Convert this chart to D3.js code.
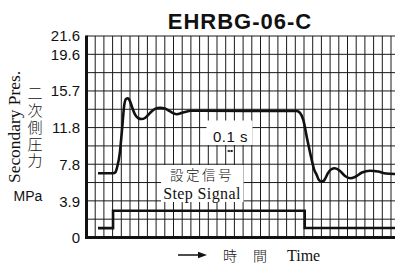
<!DOCTYPE html>
<html><head><meta charset="utf-8">
<script src="https://cdn.jsdelivr.net/npm/d3@7"></script>
<style>
html,body{margin:0;padding:0;background:#fff;}
svg{display:block;}
</style></head>
<body>
<svg id="c" width="395" height="263"></svg>
<script>
// ---- data ----
const title = "EHRBG-06-C";
const yTickValues = [0, 3.9, 7.8, 11.8, 15.7, 19.6, 21.6];
const yTickLabels = ["0", "3.9", "7.8", "11.8", "15.7", "19.6", "21.6"];
const gridCellsY = 11;          // horizontal grid divisions
const gridCellsX = 35;          // vertical grid divisions (time cells)
const pressureT = [1.32,3.05,3.33,3.5,3.85,4.08,4.34,4.54,4.74,4.94,5.23,5.57,5.92,6.34,6.72,7.3,7.87,8.45,9.02,9.6,10.37,11.09,12.09,13.05,24.16,24.54,24.92,25.34,25.89,26.15,26.46,26.72,27.03,27.3,27.76,28.1,28.56,29.14,29.71,30.29,30.86,31.67,32.59,33.51,34.43,35.46];
const pressureV = [6.88,6.88,7.0,7.45,9.2,11.52,14.2,14.85,14.92,14.74,13.99,13.19,12.81,12.7,12.81,13.35,13.78,13.91,13.83,13.51,13.21,13.4,13.59,13.58,13.56,13.35,12.6,10.67,8.31,7.34,6.7,6.16,5.98,6.11,6.91,7.29,7.42,7.13,6.59,6.35,6.49,6.97,7.16,7.08,6.86,6.81];
const stepT = [1.32, 3.05, 3.05, 25.08, 25.08, 35.46];
const stepV = [1.0, 1.0, 2.87, 2.87, 1.02, 1.02];

// ---- layout ----
const svg = d3.select("#c");
const x = d3.scaleLinear().domain([0, gridCellsX]).range([86.5, 391]);
const y = d3.scaleLinear().domain([0, 21.6]).range([237.5, 36]);
const xRight = 395;

// grid
const g = svg.append("g");
const hVals = d3.range(0, gridCellsY + 1).map(k => k * 21.6 / gridCellsY);
g.selectAll("line.h").data(hVals).join("line")
  .attr("x1", x(0)).attr("x2", xRight)
  .attr("y1", d => y(d)).attr("y2", d => y(d))
  .attr("stroke", "#1a1a1a").attr("stroke-width", 1);
g.selectAll("line.v").data(d3.range(0, gridCellsX + 1)).join("line")
  .attr("x1", d => x(d)).attr("x2", d => x(d))
  .attr("y1", y(21.6)).attr("y2", y(0))
  .attr("stroke", "#1a1a1a").attr("stroke-width", 1);

// white label boxes
svg.append("rect").attr("x", 206.5).attr("y", 120.5).attr("width", 46).attr("height", 24.5).attr("fill", "#fff");
svg.append("rect").attr("x", 161).attr("y", 165).attr("width", 82.5).attr("height", 37).attr("fill", "#fff");

// axes (thick)
svg.append("line").attr("x1", x(0)).attr("x2", x(0)).attr("y1", y(21.6) - 0.5).attr("y2", y(0) + 1.5)
  .attr("stroke", "#111").attr("stroke-width", 3);
svg.append("line").attr("x1", x(0) - 1.5).attr("x2", xRight).attr("y1", y(0)).attr("y2", y(0))
  .attr("stroke", "#111").attr("stroke-width", 3);

// curves
const pLine = d3.line().x(d => x(d[0])).y(d => y(d[1])).curve(d3.curveMonotoneX);
const sLine = d3.line().x(d => x(d[0])).y(d => y(d[1]));
svg.append("path")
  .datum(pressureT.map((t, i) => [t, pressureV[i]]))
  .attr("d", pLine)
  .attr("fill", "none").attr("stroke", "#111").attr("stroke-width", 2.6).attr("stroke-linejoin", "round");
svg.append("path")
  .datum(stepT.map((t, i) => [t, stepV[i]]))
  .attr("d", sLine)
  .attr("fill", "none").attr("stroke", "#111").attr("stroke-width", 2.6);

// y tick labels
svg.selectAll("text.yt").data(yTickValues).join("text")
  .attr("x", 80).attr("y", d => y(d)).attr("dy", "0.36em")
  .attr("text-anchor", "end")
  .attr("font-family", "Liberation Sans, Arial, sans-serif").attr("font-size", 15)
  .attr("fill", "#111")
  .text((d, i) => yTickLabels[i]);

// title
svg.append("text").attr("x", 240).attr("y", 28.5).attr("text-anchor", "middle")
  .attr("font-family", "Liberation Sans, Arial, sans-serif").attr("font-weight", "bold")
  .attr("font-size", 22).attr("letter-spacing", 1).attr("fill", "#111").text(title);

// y axis titles
svg.append("text").attr("transform", "translate(20,127) rotate(-90)")
  .attr("text-anchor", "middle")
  .attr("font-family", "Liberation Serif, Times New Roman, serif").attr("font-size", 16)
  .attr("textLength", 112).attr("lengthAdjust", "spacingAndGlyphs")
  .attr("fill", "#111").text("Secondary Pres.");
svg.append("text")
  .attr("x", 35).attr("y", 128)
  .attr("text-anchor", "middle")
  .style("writing-mode", "vertical-rl").style("text-orientation", "upright")
  .attr("letter-spacing", 1.7)
  .attr("font-family", "Noto Sans CJK JP").attr("font-weight", 300).attr("font-size", 15)
  .attr("fill", "#111").text("二次側圧力");
svg.append("text").attr("x", 28).attr("y", 196).attr("dy", "0.36em").attr("text-anchor", "middle")
  .attr("font-family", "Liberation Sans, Arial, sans-serif").attr("font-size", 14)
  .attr("fill", "#111").text("MPa");

// annotation 0.1 s
svg.append("text").attr("x", 230.5).attr("y", 141.5).attr("text-anchor", "middle")
  .attr("font-family", "Liberation Sans, Arial, sans-serif").attr("font-size", 15)
  .attr("letter-spacing", 0.5).attr("fill", "#111").text("0.1 s");
svg.append("line").attr("x1", 227.5).attr("x2", 233).attr("y1", 151).attr("y2", 151)
  .attr("stroke", "#111").attr("stroke-width", 1);
svg.append("path").attr("d", "M227.5,151 l2,-1.3 v2.6 z M233,151 l-2,-1.3 v2.6 z").attr("fill", "#111");

// step signal label
svg.append("text").attr("x", 202).attr("y", 180).attr("text-anchor", "middle")
  .attr("font-family", "Noto Sans CJK JP").attr("font-weight", 300).attr("font-size", 13.5)
  .attr("letter-spacing", 2.5).attr("fill", "#111").text("設定信号");
svg.append("text").attr("x", 202).attr("y", 199).attr("text-anchor", "middle")
  .attr("font-family", "Liberation Serif, Times New Roman, serif").attr("font-size", 16)
  .attr("letter-spacing", 0.4).attr("fill", "#111").text("Step Signal");

// x axis label
svg.append("line").attr("x1", 178).attr("x2", 200).attr("y1", 255).attr("y2", 255)
  .attr("stroke", "#111").attr("stroke-width", 1.5);
svg.append("path").attr("d", "M207,255 L198,251.8 L198,258.2 Z").attr("fill", "#111");
svg.append("text").attr("x", 230).attr("y", 260.5).attr("text-anchor", "middle")
  .attr("font-family", "Noto Sans CJK JP").attr("font-weight", 300).attr("font-size", 14)
  .attr("fill", "#111").text("時");
svg.append("text").attr("x", 260).attr("y", 260.5).attr("text-anchor", "middle")
  .attr("font-family", "Noto Sans CJK JP").attr("font-weight", 300).attr("font-size", 14)
  .attr("fill", "#111").text("間");
svg.append("text").attr("x", 287).attr("y", 260.5).attr("text-anchor", "start")
  .attr("font-family", "Liberation Serif, Times New Roman, serif").attr("font-size", 16)
  .attr("fill", "#111").text("Time");
</script>
</body></html>
